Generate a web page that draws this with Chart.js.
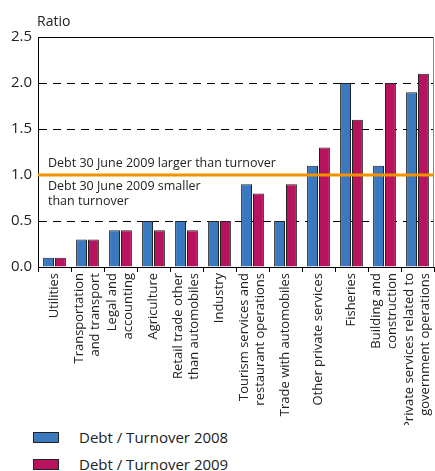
<!DOCTYPE html>
<html>
<head>
<meta charset="utf-8">
<script src="https://cdn.jsdelivr.net/npm/chart.js@4.4.0/dist/chart.umd.min.js"></script>
<style>
  body { margin: 0; background: #fff; }
  #wrap { position: relative; width: 435px; height: 471px; }
  #chart { position: absolute; left: 0; top: 0; }
  .lg-box { position: absolute; left: 33px; width: 24px; height: 9px; border: 1px solid #222; }
  .lg-text { position: absolute; left: 79px; font: 15px 'Open Sans', sans-serif; color: #222; line-height: 16px; }
</style>
</head>
<body>
<div id="wrap">
  <canvas id="chart" width="435" height="425"></canvas>
  <div class="lg-box" style="top:432px; background:#3a78c0;"></div>
  <div class="lg-text" id="lg1" style="top:429px;"></div>
  <div class="lg-box" style="top:459px; background:#b8135f;"></div>
  <div class="lg-text" id="lg2" style="top:456px;"></div>
</div>
<script>
// ---- data ----
const categories = [
  'Utilities',
  ['Transportation', 'and transport'],
  ['Legal and', 'accounting'],
  'Agriculture',
  ['Retail trade other', 'than automobiles'],
  'Industry',
  ['Tourism services and', 'restaurant operations'],
  'Trade with automobiles',
  'Other private services',
  'Fisheries',
  ['Building and', 'construction'],
  ['Private services related to', 'government operations']
];
const debt2008 = [0.1, 0.3, 0.4, 0.5, 0.5, 0.5, 0.9, 0.5, 1.1, 2.0, 1.1, 1.9];
const debt2009 = [0.1, 0.3, 0.4, 0.4, 0.4, 0.5, 0.8, 0.9, 1.3, 1.6, 2.0, 2.1];
const seriesNames = ['Debt / Turnover 2008', 'Debt / Turnover 2009'];
const yTicks = [0, 0.5, 1.0, 1.5, 2.0, 2.5];
const dashedAt = [0.5, 1.5, 2.0];
const threshold = 1.0;
const aboveText = 'Debt 30 June 2009 larger than turnover';
const belowText = ['Debt 30 June 2009 smaller', 'than turnover'];
const axisTitle = 'Ratio';

const FONT = "'Open Sans', sans-serif";
document.getElementById('lg1').textContent = seriesNames[0];
document.getElementById('lg2').textContent = seriesNames[1];

// center multi-line rotated x labels on their category
const centerLabels = {
  id: 'centerLabels',
  beforeDraw(chart) {
    const s = chart.scales.x;
    s.getLabelItems().forEach(it => {
      if (it._shifted) return;
      const n = Array.isArray(it.label) ? it.label.length : 1;
      const tr = it.options.translation;
      tr[0] -= (n - 1) * it.font.lineHeight / 2;
      it._shifted = true;
    });
  }
};

// orange line, notes, frame and "Ratio"
const notesPlugin = {
  id: 'notes',
  afterDatasetsDraw(chart) {
    const { ctx, chartArea: a, scales: { y } } = chart;
    const yl = y.getPixelForValue(threshold);
    ctx.save();
    // frame top + right
    ctx.strokeStyle = '#000';
    ctx.lineWidth = 1;
    ctx.beginPath();
    ctx.moveTo(a.left, a.top + 0.5);
    ctx.lineTo(a.right, a.top + 0.5);
    ctx.stroke();
    ctx.strokeStyle = '#888';
    ctx.beginPath();
    ctx.moveTo(a.right - 0.5, a.top);
    ctx.lineTo(a.right - 0.5, a.bottom);
    ctx.stroke();
    // threshold
    ctx.strokeStyle = '#f39200';
    ctx.lineWidth = 3;
    ctx.beginPath();
    ctx.moveTo(a.left, yl);
    ctx.lineTo(a.right, yl);
    ctx.stroke();
    ctx.fillStyle = '#222';
    ctx.font = '12.5px ' + FONT;
    ctx.textAlign = 'left';
    ctx.textBaseline = 'middle';
    ctx.fillText(aboveText, a.left + 10, yl - 12);
    belowText.forEach((t, i) => ctx.fillText(t, a.left + 10, yl + 11 + i * 15));
    ctx.font = '14px ' + FONT;
    ctx.fillText(axisTitle, a.left - 1, 22);
    ctx.restore();
  }
};

new Chart(document.getElementById('chart'), {
  type: 'bar',
  data: {
    labels: categories,
    datasets: [
      { label: seriesNames[0], data: debt2008, backgroundColor: '#3a78c0', borderColor: '#222', borderWidth: 1 },
      { label: seriesNames[1], data: debt2009, backgroundColor: '#b8135f', borderColor: '#222', borderWidth: 1 }
    ]
  },
  plugins: [centerLabels, notesPlugin],
  options: {
    responsive: false,
    animation: false,
    layout: { padding: { top: 37, right: 1, left: 0, bottom: 0 } },
    categoryPercentage: 0.72,
    barPercentage: 0.92,
    plugins: { legend: { display: false }, tooltip: { enabled: false } },
    scales: {
      x: {
        grid: { offset: true, drawOnChartArea: false, drawTicks: true, tickLength: 5, color: '#000' },
        border: { color: '#000', width: 1 },
        ticks: { autoRotation: false, minRotation: 90, maxRotation: 90, autoSkip: false, padding: 1, color: '#222', font: { family: FONT, size: 13 } },
        afterFit(s) { s.height = 158; s.paddingLeft = 0; s.paddingRight = 0; }
      },
      y: {
        min: 0, max: 2.5,
        afterBuildTicks(s) { s.ticks = yTicks.map(v => ({ value: v })); },
        grid: { drawTicks: false, color: c => dashedAt.includes(c.tick && c.tick.value) ? '#000' : 'rgba(0,0,0,0)' },
        border: { color: '#000', width: 1, dash: [8, 6] },
        ticks: { padding: 6, color: '#222', font: { family: FONT, size: 15 }, callback: v => v.toFixed(1) },
        afterFit(s) { s.width = 38; s.paddingTop = 0; s.paddingBottom = 0; }
      }
    }
  }
});
</script>
</body>
</html>
